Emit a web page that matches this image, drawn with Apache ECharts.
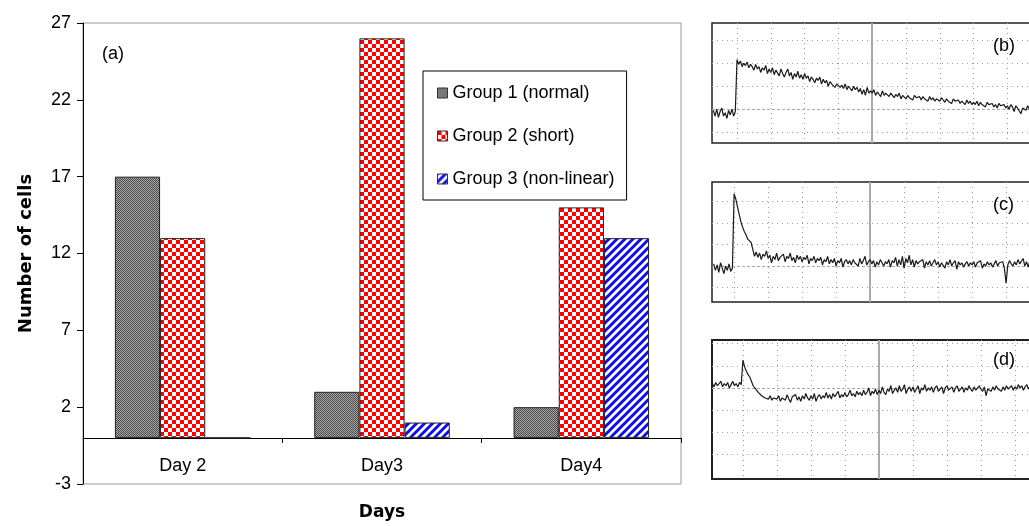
<!DOCTYPE html>
<html><head><meta charset="utf-8">
<script src="https://cdn.jsdelivr.net/npm/echarts@6/dist/echarts.min.js"></script>
<style>html,body{margin:0;padding:0;background:#fff}#c{width:1029px;height:526px}</style>
</head><body><div id="c"></div>
<script>
// ---- data ----
const days = ['Day 2', 'Day3', 'Day4'];
const seriesNames = ['Group 1 (normal)', 'Group 2 (short)', 'Group 3 (non-linear)'];
const group1 = [17, 3, 2];
const group2 = [13, 26, 15];
const group3 = [0, 1, 13];
const yTicks = [-3, 2, 7, 12, 17, 22, 27];

// oscilloscope traces (values in screen divisions, baseline = 0), one sample every 0.05 division
const traceStep = 0.05;
const traceBStart = -0.7;
const traceB = [-0.05,-0.3,0.0,-0.35,-0.1,0.05,-0.3,-0.15,-0.4,-0.05,-0.25,0.0,-0.3,-0.1,
 2.15,1.95,2.1,1.85,2.0,1.9,2.05,1.8,1.95,1.85,
 1.7,1.95,1.75,1.85,1.6,1.8,1.7,1.9,1.55,1.75,
 1.6,1.8,1.5,1.7,1.65,1.45,1.75,1.55,1.4,1.6,
 1.75,1.45,1.6,1.3,1.55,1.4,1.65,1.35,1.5,1.3,
 1.55,1.35,1.45,1.2,1.4,1.3,1.15,1.35,1.25,1.4,
 1.1,1.3,1.15,1.25,1.0,1.2,1.1,1.15,0.95,1.1,
 1.15,0.95,1.05,0.9,1.1,0.85,1.0,0.9,0.8,1.0,
 0.85,0.95,0.75,0.9,0.65,0.85,0.6,0.95,0.7,0.8,
 0.7,0.85,0.6,0.75,0.65,0.55,0.8,0.6,0.7,0.65,
 0.55,0.7,0.6,0.5,0.65,0.55,0.7,0.45,0.6,0.55,
 0.45,0.6,0.5,0.55,0.4,0.6,0.5,0.45,0.55,0.4,
 0.55,0.45,0.5,0.35,0.55,0.4,0.5,0.35,0.45,0.5,
 0.35,0.5,0.4,0.3,0.45,0.35,0.4,0.25,0.45,0.35,
 0.3,0.4,0.25,0.35,0.3,0.2,0.4,0.25,0.35,0.2,
 0.3,0.2,0.35,0.15,0.3,0.2,0.25,0.1,0.3,0.2,
 0.15,0.25,0.1,0.2,0.05,0.25,0.15,0.1,0.2,0.05,
 0.15,0.0,0.2,0.1,-0.1,0.15,0.05,0.1,-0.2,0.05,
 0.1,-0.05,0.15,0.0,0.1];
const traceCStart = -0.6;
const traceC = [0.1,-0.2,0.05,-0.3,0.15,-0.1,-0.35,0.0,-0.2,0.1,-0.25,-0.1,
 3.35,3.1,2.75,2.4,2.05,1.8,1.6,1.45,1.25,1.3,
 1.1,1.05,0.45,0.65,0.4,0.6,0.3,0.55,0.45,0.7,
 0.35,0.5,0.15,0.45,0.3,0.6,0.25,0.4,0.35,0.55,
 0.2,0.45,0.35,0.6,0.25,0.4,0.15,0.5,0.3,0.45,
 0.2,0.4,0.3,0.5,0.1,0.35,0.25,0.45,0.15,0.35,
 0.25,0.4,0.05,0.3,0.2,0.45,0.1,0.3,0.15,0.35,
 0.0,0.25,0.15,0.35,-0.05,0.2,0.3,0.1,0.25,0.05,
 0.3,0.15,0.2,0.0,0.35,0.1,0.25,0.45,0.05,0.2,
 0.3,0.1,0.25,-0.05,0.2,0.05,0.3,0.15,0.0,0.2,
 0.1,0.3,-0.05,0.25,0.15,0.4,0.0,0.3,0.05,0.45,
 -0.1,0.35,0.15,0.5,0.05,0.3,-0.05,0.25,0.1,0.2,
 0.15,0.3,-0.1,0.2,0.05,0.25,0.0,0.15,0.3,0.05,
 0.2,-0.05,0.15,0.1,-0.1,0.2,0.05,0.3,0.0,0.15,
 0.25,-0.15,0.2,0.05,0.15,-0.05,0.1,0.2,0.0,0.15,
 0.05,0.2,-0.05,0.15,0.1,0.25,-0.1,0.1,0.0,0.2,
 0.05,0.15,-0.05,0.1,0.25,0.0,0.15,0.1,0.2,-0.1,
 -0.8,0.05,0.25,0.1,0.0,0.2,0.05,0.3,0.1,0.15,
 0.35,0.0,0.2,-0.05,0.25,0.1,0.15];
const traceDStart = -0.9;
const traceD = [0.2,0.05,0.25,0.1,0.15,0.3,0.05,0.2,0.1,0.25,0.0,0.15,0.3,0.1,0.2,0.05,0.25,0.15,
 1.25,0.95,0.75,0.6,0.5,0.3,0.1,0.05,-0.1,-0.2,
 -0.25,-0.35,-0.3,-0.45,-0.4,-0.5,-0.35,-0.55,-0.45,-0.4,
 -0.5,-0.35,-0.6,-0.45,-0.4,-0.55,-0.3,-0.5,-0.65,-0.4,
 -0.45,-0.3,-0.55,-0.4,-0.6,-0.35,-0.5,-0.25,-0.45,-0.55,
 -0.35,-0.5,-0.25,-0.6,-0.4,-0.3,-0.5,-0.35,-0.45,-0.2,
 -0.45,-0.3,-0.5,-0.25,-0.4,-0.35,-0.15,-0.45,-0.3,-0.4,
 -0.2,-0.4,-0.3,-0.1,-0.35,-0.25,-0.4,-0.15,-0.3,-0.2,
 -0.35,-0.1,-0.3,-0.2,0.0,-0.35,-0.15,-0.25,-0.05,-0.3,
 -0.1,-0.25,0.05,-0.2,-0.3,-0.05,-0.15,0.1,-0.25,-0.1,
 0.0,-0.2,0.1,-0.15,-0.05,0.15,-0.25,-0.05,0.05,-0.15,
 0.05,-0.2,-0.05,0.1,-0.25,0.0,-0.1,0.15,-0.15,0.0,
 -0.1,0.05,-0.2,0.0,0.1,-0.15,-0.05,0.05,-0.25,0.0,
 0.1,-0.1,-0.05,0.05,-0.2,0.0,0.1,-0.15,-0.05,0.05,
 -0.2,0.0,-0.1,0.1,-0.05,-0.15,0.05,-0.1,0.0,0.1,
 -0.05,-0.15,0.05,-0.35,-0.05,0.0,-0.15,0.05,-0.1,0.1,
 -0.05,0.0,-0.15,0.05,-0.1,0.1,-0.05,0.0,0.1,-0.1,
 0.05,-0.05,0.15,0.0,0.1,-0.1,0.05,0.15,-0.05,0.1,
 0.0];
const scopeGridX = [0,1,2,3,4,5,6,7,8,9];
const scopeGridYB = [-1,0,1,2,3];
const scopeGridYC = [-1,0,1,2,3];
const scopeGridYD = [-3,-2,-1,0,1,2];

// ---- patterns ----
function makeCanvas(w, h) { const c = document.createElement('canvas'); c.width = w; c.height = h; return c; }
const grayPat = makeCanvas(2, 2);
(function(){ const g = grayPat.getContext('2d'); g.fillStyle = '#a9a9a9'; g.fillRect(0,0,2,2);
  g.fillStyle = '#4a4a4a'; g.fillRect(0,0,1,1); g.fillRect(1,1,1,1); })();
const redPat = makeCanvas(8, 8);
(function(){ const g = redPat.getContext('2d'); g.fillStyle = '#fff'; g.fillRect(0,0,8,8);
  g.fillStyle = '#ff0000'; g.fillRect(0,0,4,4); g.fillRect(4,4,4,4); })();
const bluePat = makeCanvas(8, 8);
(function(){ const g = bluePat.getContext('2d'); g.fillStyle = '#fff'; g.fillRect(0,0,8,8);
  g.strokeStyle = '#1010ee'; g.lineWidth = 3;
  g.beginPath(); g.moveTo(-1,9); g.lineTo(9,-1); g.moveTo(-5,5); g.lineTo(5,-5); g.moveTo(3,13); g.lineTo(13,3); g.stroke(); })();
const patterns = [grayPat, redPat, bluePat];

const FONT = 'Liberation Sans, Arial, sans-serif';
const BOLD = 'DejaVu Sans, sans-serif';

function pairs(start, arr) { return arr.map((v, i) => [+(start + i * traceStep).toFixed(3), v]); }

function scopeX(idx, min, max) {
  return { gridIndex: idx, type: 'value', min: min, max: max,
    axisLine: { show: false }, axisTick: { show: false, customValues: scopeGridX },
    axisLabel: { show: false, customValues: scopeGridX },
    splitLine: { show: true, lineStyle: { color: '#9a9a9a', type: [1, 4], width: 1 } } };
}
function scopeY(idx, min, max, vals) {
  return { gridIndex: idx, type: 'value', min: min, max: max,
    axisLine: { show: false }, axisTick: { show: false, customValues: vals },
    axisLabel: { show: false, customValues: vals },
    splitLine: { show: true, lineStyle: { color: '#9a9a9a', type: [1, 4], width: 1 } } };
}
function scopeSeries(idx, data) {
  return { type: 'line', xAxisIndex: idx, yAxisIndex: idx, data: data, symbol: 'none', showSymbol: false,
    silent: true, lineStyle: { color: '#1a1a1a', width: 1.2 }, z: 3,
    markLine: { silent: true, symbol: ['none', 'none'], label: { show: false }, z: 1, animation: false,
      data: [ { xAxis: 4, lineStyle: { color: '#aaaaaa', type: 'solid', width: 2 } },
              { yAxis: 0, lineStyle: { color: '#aaaaaa', type: [3, 2], width: 1 } } ] } };
}

const chart = echarts.init(document.getElementById('c'), null, { renderer: 'canvas' });
const barData = [group1, group2, group3];
chart.setOption({
  animation: false,
  backgroundColor: '#fff',
  textStyle: { fontFamily: FONT },
  title: [
    { text: '(a)', left: 102, top: 45, padding: 0, textStyle: { fontSize: 18, fontWeight: 'normal', color: '#000', fontFamily: FONT } },
    { text: '(b)', left: 993, top: 37, padding: 0, textStyle: { fontSize: 18, fontWeight: 'normal', color: '#000', fontFamily: FONT } },
    { text: '(c)', left: 993, top: 196, padding: 0, textStyle: { fontSize: 18, fontWeight: 'normal', color: '#000', fontFamily: FONT } },
    { text: '(d)', left: 993, top: 351, padding: 0, textStyle: { fontSize: 18, fontWeight: 'normal', color: '#000', fontFamily: FONT } }
  ],
  legend: {
    orient: 'vertical', left: 423, top: 71, padding: [13, 12, 12, 14],
    itemWidth: 10, itemHeight: 10, itemGap: 25, itemTextGap: 6, icon: 'rect',
    backgroundColor: '#fff', borderColor: '#000', borderWidth: 1, borderRadius: 0,
    data: seriesNames,
    itemStyle: { borderColor: '#333', borderWidth: 1 },
    textStyle: { fontSize: 18, color: '#000', fontFamily: FONT }
  },
  grid: [
    { left: 83, top: 23, width: 598, height: 461, show: true, borderColor: '#9a9a9a', borderWidth: 1, containLabel: false, outerBoundsMode: 'none' },
    { left: 712, top: 23, width: 340, height: 120, show: true, borderColor: '#222', borderWidth: 1.5, outerBoundsMode: 'none' },
    { left: 712, top: 182, width: 340, height: 120, show: true, borderColor: '#222', borderWidth: 1.5, outerBoundsMode: 'none' },
    { left: 712, top: 340, width: 340, height: 139, show: true, borderColor: '#222', borderWidth: 2, outerBoundsMode: 'none' }
  ],
  xAxis: [
    { gridIndex: 0, type: 'category', data: days,
      axisLine: { onZero: true, lineStyle: { color: '#000', width: 1 } },
      axisTick: { show: true, length: 5, lineStyle: { color: '#000' } },
      axisLabel: { color: '#000', fontSize: 18, margin: -27, fontFamily: FONT },
      splitLine: { show: false },
      name: 'Days', nameLocation: 'middle', nameGap: 20, nameMoveOverlap: false,
      nameTextStyle: { fontFamily: BOLD, fontWeight: 'bold', fontSize: 17, color: '#000' } },
    scopeX(1, -0.74, 9.32),
    scopeX(2, -0.65, 9.35),
    scopeX(3, -0.91, 9.09)
  ],
  yAxis: [
    { gridIndex: 0, type: 'value', min: -3, max: 27,
      axisLine: { show: true, lineStyle: { color: '#000', width: 1 } },
      axisTick: { show: true, length: 6, lineStyle: { color: '#000' }, customValues: yTicks },
      axisLabel: { color: '#000', fontSize: 18, margin: 12, fontFamily: FONT, customValues: yTicks },
      splitLine: { show: false },
      name: 'Number of cells', nameLocation: 'middle', nameGap: 48, nameRotate: 90,
      nameTextStyle: { fontFamily: BOLD, fontWeight: 'bold', fontSize: 18, color: '#000' } },
    scopeY(1, -1.47, 3.75, scopeGridYB),
    scopeY(2, -1.67, 3.9, scopeGridYC),
    scopeY(3, -4.1, 2.16, scopeGridYD)
  ],
  series: seriesNames.map((n, i) => ({
    name: n, type: 'bar', xAxisIndex: 0, yAxisIndex: 0, data: barData[i],
    barCategoryGap: '32%', barGap: '0%',
    itemStyle: { color: { image: patterns[i], repeat: 'repeat' }, borderColor: '#222', borderWidth: 1 }
  })).concat([
    scopeSeries(1, pairs(traceBStart, traceB)),
    scopeSeries(2, pairs(traceCStart, traceC)),
    scopeSeries(3, pairs(traceDStart, traceD))
  ])
});
</script></body></html>
